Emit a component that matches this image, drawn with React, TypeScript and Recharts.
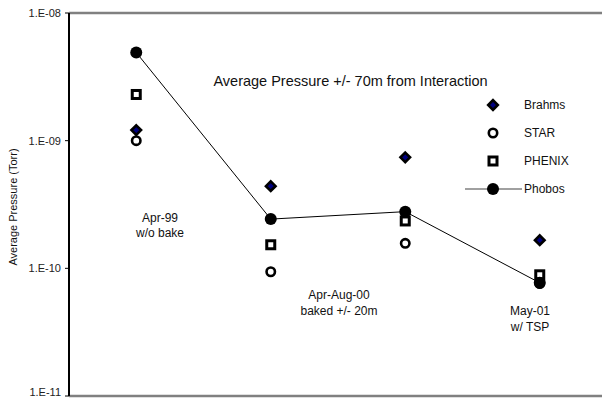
import { ComposedChart, Line, XAxis, YAxis, ReferenceLine } from 'recharts';

// measurement periods (x positions) and average pressures in Torr
const periods = [0, 1, 2, 3];
const brahms = [1.21e-9, 4.4e-10, 7.4e-10, 1.66e-10];
const star = [1.0e-9, 9.4e-11, 1.57e-10, 7.6e-11];
const phenix = [2.3e-9, 1.53e-10, 2.35e-10, 8.9e-11];
const phobos = [4.9e-9, 2.43e-10, 2.78e-10, 7.7e-11];

const seriesNames = ['Brahms', 'STAR', 'PHENIX', 'Phobos'];
const yTicks = [1e-11, 1e-10, 1e-9, 1e-8];

const data = periods.map((idx, i) => ({
  idx,
  brahms: brahms[i],
  star: star[i],
  phenix: phenix[i],
  phobos: phobos[i],
}));

const FONT = '"Liberation Sans", Arial, sans-serif';

const fmtTick = (v: number) => {
  const e = Math.round(Math.log10(v));
  return `1.E-${String(-e).padStart(2, '0')}`;
};

// tick text; the lowest label is lifted a little so it stays inside the frame
function YTick({ x, y, payload }: any) {
  return (
    <text x={x} y={Math.min(y, 392.5)} dy="0.36em" textAnchor="end" fontSize={11} fill="#222" fontFamily={FONT}>
      {fmtTick(payload.value)}
    </text>
  );
}

function Diamond({ cx, cy }: { cx: number; cy: number }) {
  const r = 4.8;
  return (
    <path
      d={`M${cx},${cy - r} L${cx + r},${cy} L${cx},${cy + r} L${cx - r},${cy} Z`}
      fill="#000080"
      stroke="#000"
      strokeWidth={2.6}
      strokeLinejoin="miter"
    />
  );
}

function Ring({ cx, cy }: { cx: number; cy: number }) {
  return <circle cx={cx} cy={cy} r={4.2} fill="#fff" stroke="#000" strokeWidth={2.6} />;
}

function Box({ cx, cy }: { cx: number; cy: number }) {
  return <rect x={cx - 4} y={cy - 4} width={8} height={8} fill="#fff" stroke="#000" strokeWidth={3} />;
}

function Dot({ cx, cy }: { cx: number; cy: number }) {
  return <circle cx={cx} cy={cy} r={6} fill="#000" />;
}

const markers = [Diamond, Ring, Box, Dot];

// legend block drawn inside the plot, upper right
function LegendBlock({ x, y }: { x: number; y: number }) {
  return (
    <g>
      {seriesNames.map((name, i) => {
        const ry = y + i * 28;
        const M = markers[i];
        return (
          <g key={name}>
            {name === 'Phobos' && <line x1={x - 28} x2={x + 29} y1={ry} y2={ry} stroke="#808080" strokeWidth={1.5} />}
            <M cx={x} cy={ry} />
            <text x={x + 31} y={ry} dy="0.36em" fontSize={12} fontFamily={FONT} fill="#111">
              {name}
            </text>
          </g>
        );
      })}
    </g>
  );
}

export default function App() {
  return (
    <div
      style={{
        position: 'absolute',
        left: 0,
        top: 0,
        width: 602,
        height: 400,
        overflow: 'hidden',
        background: '#fff',
        fontFamily: FONT,
      }}
    >
      <ComposedChart width={607} height={400} data={data} margin={{ top: 13, right: 0, bottom: 4, left: 0 }}>
        <XAxis type="number" dataKey="idx" domain={[-0.5, 3.5]} hide />
        <YAxis
          scale="log"
          domain={[1e-11, 1e-8]}
          ticks={yTicks}
          interval={0}
          allowDataOverflow
          width={69}
          tickSize={4}
          tickMargin={4}
          axisLine={{ stroke: '#000', strokeWidth: 2 }}
          tickLine={{ stroke: '#000' }}
          tick={<YTick />}
        />
        <ReferenceLine y={1e-8} stroke="#808080" strokeWidth={2.5} ifOverflow="visible" />
        <ReferenceLine y={1e-11} stroke="#808080" strokeWidth={2.5} ifOverflow="visible" />
        <Line
          name="Brahms"
          dataKey="brahms"
          stroke="none"
          dot={(p: any) => <Diamond key={`b${p.index}`} cx={p.cx} cy={p.cy} />}
          activeDot={false}
          isAnimationActive={false}
        />
        <Line
          name="STAR"
          dataKey="star"
          stroke="none"
          dot={(p: any) => <Ring key={`s${p.index}`} cx={p.cx} cy={p.cy} />}
          activeDot={false}
          isAnimationActive={false}
        />
        <Line
          name="PHENIX"
          dataKey="phenix"
          stroke="none"
          dot={(p: any) => <Box key={`p${p.index}`} cx={p.cx} cy={p.cy} />}
          activeDot={false}
          isAnimationActive={false}
        />
        <Line
          name="Phobos"
          dataKey="phobos"
          type="linear"
          stroke="#000"
          strokeWidth={1}
          dot={(p: any) => <Dot key={`f${p.index}`} cx={p.cx} cy={p.cy} />}
          activeDot={false}
          isAnimationActive={false}
        />
        <LegendBlock x={493} y={105} />
        <g fontFamily={FONT} fill="#111">
          <text x={350.5} y={85.5} fontSize={14.5} textAnchor="middle">
            Average Pressure +/- 70m from Interaction
          </text>
          <text x={160} y={222} fontSize={12} textAnchor="middle">Apr-99</text>
          <text x={160} y={236.5} fontSize={12} textAnchor="middle">w/o bake</text>
          <text x={339} y={298.5} fontSize={12} textAnchor="middle">Apr-Aug-00</text>
          <text x={339} y={315} fontSize={12} textAnchor="middle">baked +/- 20m</text>
          <text x={530} y={314.5} fontSize={12} textAnchor="middle">May-01</text>
          <text x={530} y={331} fontSize={12} textAnchor="middle">w/ TSP</text>
          <text
            x={13.5}
            y={207}
            fontSize={11}
            textAnchor="middle"
            dy="0.36em"
            transform="rotate(-90 13.5 207)"
          >
            Average Pressure (Torr)
          </text>
        </g>
      </ComposedChart>
    </div>
  );
}
